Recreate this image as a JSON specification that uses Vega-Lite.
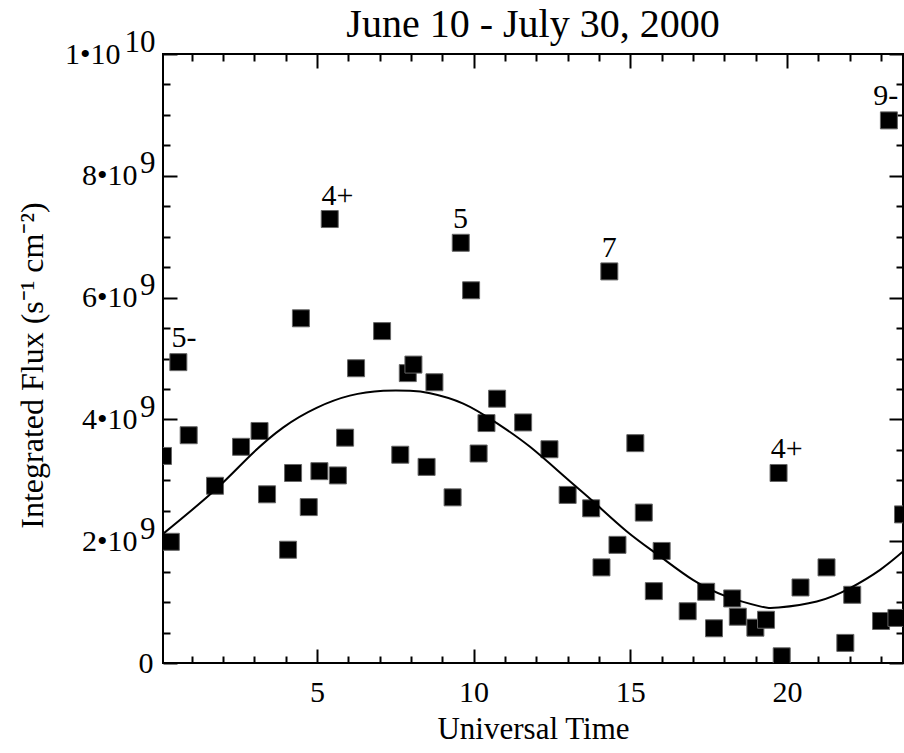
{
  "$schema": "https://vega.github.io/schema/vega-lite/v6.json",
  "width": 740,
  "height": 609,
  "autosize": "none",
  "padding": {"left": 163, "top": 54, "right": 1, "bottom": 90},
  "background": "white",
  "config": {
    "view": {"stroke": "black", "strokeWidth": 2},
    "font": "Liberation Serif",
    "axis": {"grid": false, "domain": false, "tickColor": "black", "tickWidth": 2, "labelColor": "black", "titleColor": "black", "labelFont": "Liberation Serif", "titleFont": "Liberation Serif", "titleFontWeight": "normal", "labelOverlap": false, "labelFlush": false}
  },
  "title": {"text": "June 10 - July 30, 2000", "font": "Liberation Serif", "fontSize": 40, "fontWeight": "normal", "color": "black", "anchor": "middle", "offset": -19},
  "datasets": {
    "obs": [
      {"t": 0.09, "v": 3.40e9}, {"t": 0.34, "v": 1.99e9}, {"t": 0.58, "v": 4.94e9}, {"t": 0.91, "v": 3.74e9},
      {"t": 1.75, "v": 2.91e9}, {"t": 2.58, "v": 3.55e9}, {"t": 3.17, "v": 3.81e9}, {"t": 3.41, "v": 2.77e9},
      {"t": 4.08, "v": 1.86e9}, {"t": 4.24, "v": 3.12e9}, {"t": 4.49, "v": 5.66e9}, {"t": 4.74, "v": 2.56e9},
      {"t": 5.08, "v": 3.15e9}, {"t": 5.41, "v": 7.29e9}, {"t": 5.67, "v": 3.08e9}, {"t": 5.90, "v": 3.70e9},
      {"t": 6.25, "v": 4.84e9}, {"t": 7.08, "v": 5.45e9}, {"t": 7.66, "v": 3.42e9}, {"t": 7.90, "v": 4.76e9},
      {"t": 8.08, "v": 4.90e9}, {"t": 8.50, "v": 3.22e9}, {"t": 8.75, "v": 4.61e9}, {"t": 9.33, "v": 2.72e9},
      {"t": 9.59, "v": 6.90e9}, {"t": 9.92, "v": 6.12e9}, {"t": 10.16, "v": 3.44e9}, {"t": 10.41, "v": 3.94e9},
      {"t": 10.75, "v": 4.34e9}, {"t": 11.58, "v": 3.95e9}, {"t": 12.42, "v": 3.51e9}, {"t": 13.00, "v": 2.76e9},
      {"t": 13.75, "v": 2.54e9}, {"t": 14.08, "v": 1.57e9}, {"t": 14.33, "v": 6.43e9}, {"t": 14.59, "v": 1.94e9},
      {"t": 15.16, "v": 3.61e9}, {"t": 15.43, "v": 2.47e9}, {"t": 15.75, "v": 1.18e9}, {"t": 16.00, "v": 1.84e9},
      {"t": 16.83, "v": 0.85e9}, {"t": 17.42, "v": 1.17e9}, {"t": 17.67, "v": 0.57e9}, {"t": 18.25, "v": 1.06e9},
      {"t": 18.43, "v": 0.76e9}, {"t": 18.99, "v": 0.58e9}, {"t": 19.33, "v": 0.71e9}, {"t": 19.73, "v": 3.12e9},
      {"t": 19.83, "v": 0.11e9}, {"t": 20.43, "v": 1.24e9}, {"t": 21.26, "v": 1.57e9}, {"t": 21.86, "v": 0.33e9},
      {"t": 22.08, "v": 1.12e9}, {"t": 23.00, "v": 0.69e9}, {"t": 23.25, "v": 8.91e9}, {"t": 23.49, "v": 0.74e9},
      {"t": 23.70, "v": 2.44e9}
    ],
    "fit": [
      {"t": 0.09, "v": 2.12e9}, {"t": 1.75, "v": 2.84e9}, {"t": 2.86, "v": 3.40e9}, {"t": 3.93, "v": 3.87e9},
      {"t": 4.99, "v": 4.19e9}, {"t": 6.05, "v": 4.39e9}, {"t": 7.12, "v": 4.47e9}, {"t": 7.97, "v": 4.47e9},
      {"t": 8.61, "v": 4.43e9}, {"t": 9.67, "v": 4.26e9}, {"t": 10.74, "v": 3.94e9}, {"t": 11.80, "v": 3.55e9},
      {"t": 12.97, "v": 3.03e9}, {"t": 13.82, "v": 2.65e9}, {"t": 14.89, "v": 2.16e9}, {"t": 15.95, "v": 1.75e9},
      {"t": 17.01, "v": 1.36e9}, {"t": 18.08, "v": 1.09e9}, {"t": 19.14, "v": 0.93e9}, {"t": 19.73, "v": 0.91e9},
      {"t": 20.95, "v": 1.01e9}, {"t": 22.01, "v": 1.23e9}, {"t": 22.97, "v": 1.53e9}, {"t": 23.70, "v": 1.83e9}
    ],
    "notes": [
      {"t": 0.36, "v": 5.19e9, "label": "5-"},
      {"t": 5.15, "v": 7.52e9, "label": "4+"},
      {"t": 9.34, "v": 7.14e9, "label": "5"},
      {"t": 14.09, "v": 6.67e9, "label": "7"},
      {"t": 19.48, "v": 3.36e9, "label": "4+"},
      {"t": 22.75, "v": 9.16e9, "label": "9-"}
    ]
  },
  "layer": [
    {
      "data": {"name": "obs"},
      "mark": {"type": "point", "shape": "square", "filled": true, "size": 289, "color": "#000000", "stroke": "#666666", "strokeWidth": 1, "opacity": 1, "clip": true},
      "encoding": {
        "x": {"field": "t", "type": "quantitative", "scale": {"domain": [0.09, 23.7], "nice": false, "zero": false},
          "axis": {"orient": "bottom", "values": [1,2,3,4,5,6,7,8,9,10,11,12,13,14,15,16,17,18,19,20,21,22,23],
            "tickSize": {"condition": {"test": "datum.value % 5 === 0", "value": -14}, "value": -7},
            "labelExpr": "datum.value % 5 === 0 ? datum.label : ''",
            "labelFontSize": 30, "labelPadding": 28, "labelBaseline": "top",
            "title": "Universal Time", "titleFontSize": 31, "titlePadding": 0}},
        "y": {"field": "v", "type": "quantitative", "scale": {"domain": [0, 1e10], "nice": false, "zero": true},
          "axis": {"orient": "left", "values": [0,5e8,1e9,1.5e9,2e9,2.5e9,3e9,3.5e9,4e9,4.5e9,5e9,5.5e9,6e9,6.5e9,7e9,7.5e9,8e9,8.5e9,9e9,9.5e9,1e10],
            "tickSize": {"condition": {"test": "datum.value % 2000000000 === 0", "value": -14}, "value": -7},
            "labelExpr": "datum.value % 2000000000 !== 0 ? '' : (datum.value === 0 ? '0' : (datum.value === 10000000000 ? '1•10' : (datum.value / 1000000000) + '•10'))",
            "labelFontSize": 30, "labelAlign": "right", "labelBaseline": "middle",
            "labelPadding": {"condition": [{"test": "datum.value === 0", "value": 24}, {"test": "datum.value === 10000000000", "value": 57}], "value": 40},
            "title": "Integrated Flux (s⁻¹ cm⁻²)", "titleFontSize": 32, "titleAngle": 270,
            "titleBaseline": "alphabetic", "titleAlign": "center", "titleX": -121, "titleY": 311}}
      }
    },
    {
      "data": {"name": "fit"},
      "mark": {"type": "line", "color": "black", "strokeWidth": 2, "interpolate": "natural", "clip": true},
      "encoding": {
        "x": {"field": "t", "type": "quantitative",
          "axis": {"orient": "top", "values": [1,2,3,4,5,6,7,8,9,10,11,12,13,14,15,16,17,18,19,20,21,22,23],
            "tickSize": {"condition": {"test": "datum.value % 5 === 0", "value": -14}, "value": -7},
            "labels": false, "title": null}},
        "y": {"field": "v", "type": "quantitative",
          "axis": {"orient": "right", "values": [0,5e8,1e9,1.5e9,2e9,2.5e9,3e9,3.5e9,4e9,4.5e9,5e9,5.5e9,6e9,6.5e9,7e9,7.5e9,8e9,8.5e9,9e9,9.5e9,1e10],
            "tickSize": {"condition": {"test": "datum.value % 2000000000 === 0", "value": -14}, "value": -7},
            "labels": false, "title": null}}
      }
    },
    {
      "data": {"name": "notes"},
      "mark": {"type": "text", "align": "left", "baseline": "alphabetic", "fontSize": 30, "font": "Liberation Serif", "color": "black"},
      "encoding": {
        "x": {"field": "t", "type": "quantitative", "axis": null},
        "y": {"field": "v", "type": "quantitative",
          "axis": {"orient": "left", "values": [2e9,4e9,6e9,8e9,1e10],
            "labelExpr": "datum.value === 10000000000 ? '10' : '9'",
            "ticks": false, "labelFontSize": 31, "labelAlign": "right", "labelBaseline": "middle",
            "labelPadding": 8, "labelOffset": -12, "title": null}},
        "text": {"field": "label"}
      }
    }
  ],
  "resolve": {"axis": {"x": "independent", "y": "independent"}}
}
